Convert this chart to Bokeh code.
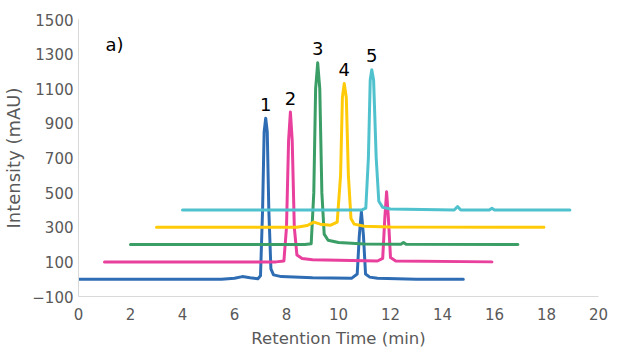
from bokeh.plotting import figure
from bokeh.models import Range1d, FixedTicker, Label, ColumnDataSource
from bokeh.core.properties import value
from bokeh.embed import file_html
from bokeh.resources import INLINE

# --- data (retention time in min, intensity in mAU) ---
blue_x = [0, 5.5, 6.0, 6.3, 6.6, 6.9, 7.0, 7.08, 7.14, 7.2, 7.26, 7.32, 7.4, 7.5, 7.8, 9.0,
          10.5, 10.72, 10.8, 10.88, 10.96, 11.04, 11.2, 11.5, 13.0, 14.8]
blue_y = [0, 0, 5, 15, 8, 3, 20, 400, 850, 930, 850, 400, 60, 25, 15, 8,
          5, 30, 250, 390, 250, 30, 12, 5, 0, 0]

pink_x = [1, 7.6, 7.9, 8.0, 8.08, 8.15, 8.22, 8.3, 8.4, 8.6, 9.0, 11.5, 11.7, 11.78, 11.85,
          11.92, 12.0, 12.2, 15.9]
pink_y = [100, 100, 105, 300, 800, 965, 800, 300, 140, 120, 112, 105, 120, 350, 505,
          350, 125, 105, 100]

green_x = [2, 8.7, 8.95, 9.05, 9.12, 9.2, 9.28, 9.36, 9.45, 9.6, 10.0, 11.0, 12.4, 12.5, 12.6, 16.9]
green_y = [200, 200, 205, 500, 1100, 1250, 1100, 500, 260, 225, 212, 203, 202, 212, 202, 200]

yellow_x = [3, 8.4, 8.8, 9.05, 9.3, 9.7, 9.95, 10.08, 10.15, 10.22, 10.3, 10.38, 10.48, 10.6,
            11.0, 12.0, 17.9]
yellow_y = [300, 300, 310, 330, 318, 312, 330, 600, 1050, 1130, 1050, 600, 350, 318,
            306, 302, 300]

cyan_x = [4, 10.9, 11.05, 11.15, 11.22, 11.28, 11.35, 11.45, 11.55, 11.7, 12.0, 14.45, 14.58,
          14.7, 15.8, 15.9, 16.0, 18.9]
cyan_y = [400, 400, 410, 700, 1150, 1210, 1150, 700, 450, 415, 405, 400, 420,
          400, 400, 410, 400, 400]

peak_labels = ["1", "2", "3", "4", "5"]
peak_rt = [7.2, 8.15, 9.2, 10.22, 11.28]
peak_height = [930, 965, 1250, 1130, 1210]

x_ticks = [0, 2, 4, 6, 8, 10, 12, 14, 16, 18, 20]
y_ticks = [-100, 100, 300, 500, 700, 900, 1100, 1300, 1500]

FONT = "DejaVu Sans"
GRAY = "#595959"

p = figure(frame_width=520, frame_height=277, output_backend="svg", toolbar_location=None,
           x_range=Range1d(0, 20), y_range=Range1d(-100, 1500),
           min_border_left=70, min_border_right=14, min_border_top=19, min_border_bottom=50)
p.outline_line_color = None
p.xgrid.visible = False
p.ygrid.visible = False

traces = [
    (blue_x, blue_y, "#2E6DB4"),
    (pink_x, pink_y, "#E8409C"),
    (green_x, green_y, "#3A9E66"),
    (yellow_x, yellow_y, "#FFCB08"),
    (cyan_x, cyan_y, "#4FC2CE"),
]
for xs, ys, col in traces:
    p.line(xs, ys, line_color=col, line_width=3, line_join="round", line_cap="round")

src = ColumnDataSource(dict(x=peak_rt, y=peak_height, t=peak_labels))
p.text(x="x", y="y", text="t", source=src, text_align="center", text_baseline="middle",
       y_offset=-14, text_font=value(FONT), text_font_size="18px", text_color="#000000")

p.add_layout(Label(x=1.04, y=1356, text="a)", text_font=FONT, text_font_size="18px",
                   text_color="#000000", text_baseline="middle", text_align="left"))

for ax in (p.xaxis[0], p.yaxis[0]):
    ax.axis_line_color = "#D9D9D9"
    ax.axis_line_width = 1
    ax.major_tick_line_color = None
    ax.minor_tick_line_color = None
    ax.major_tick_out = 0
    ax.major_tick_in = 0
    ax.major_label_text_font = FONT
    ax.major_label_text_font_size = "15px"
    ax.major_label_text_color = GRAY
    ax.axis_label_text_font = FONT
    ax.axis_label_text_font_style = "normal"
    ax.axis_label_text_color = GRAY

p.xaxis[0].axis_label_text_font_size = "16.5px"
p.yaxis[0].axis_label_text_font_size = "18px"
p.xaxis[0].ticker = FixedTicker(ticks=x_ticks)
p.yaxis[0].ticker = FixedTicker(ticks=y_ticks)
p.xaxis[0].axis_label = "Retention Time (min)"
p.yaxis[0].axis_label = "Intensity (mAU)"
p.xaxis[0].major_label_standoff = 11
p.xaxis[0].axis_label_standoff = 6
p.yaxis[0].major_label_standoff = 5
p.yaxis[0].axis_label_standoff = 5

open("out.html", "w").write(file_html(p, INLINE))
